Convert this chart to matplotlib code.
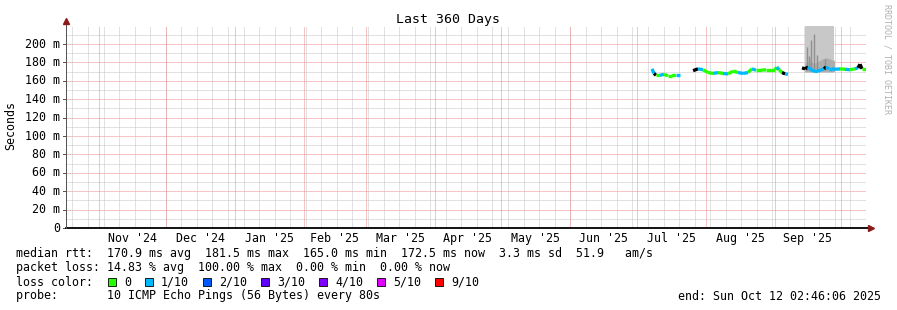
"""
Smokeping style RTT chart (last 360 days) redrawn with matplotlib.
"""

from datetime import datetime, timedelta

import matplotlib.pyplot as plt
from matplotlib.patches import Rectangle

# ---- data ----
# day offsets from the start of the 360 day window, median rtt in ms,
# loss level per sample (0 = no loss, 1 = 1/10, 2 = 2/10, -1 = drawn black)
seg1_days = [263.7, 264.6, 265.5, 267.3, 269.1, 270.9, 272.7, 274.5, 276.3]
seg1_rtt = [173, 168, 166, 166, 167, 165.5, 165.5, 166, 166]
seg1_loss = [1, -1, 0, 1, 0, 0, 0, 1, 0]

seg2_days = [282.2, 284.4, 286.7, 288.9, 291.2, 293.4, 295.7, 297.9, 300.2, 302.4,
             304.7, 306.9, 308.7, 310.5, 312.8, 315.0, 317.3, 319.0, 319.9, 320.9,
             322.2, 323.6, 324.9]
seg2_rtt = [171, 173, 172, 169, 168, 169, 168, 167.5, 170.5, 169,
            168, 169, 173, 171.5, 171.5, 172, 172, 172, 175, 172,
            169, 167.5, 167]
seg2_loss = [-1, 1, 0, 0, 1, 0, 1, 0, 0, 1,
             1, 0, 1, 0, 0, 0, 0, 0, 1, 0,
             -1, 1, 2]

seg3_days = [331.2, 332.6, 333.9, 335.3, 337.1, 338.4, 339.8, 341.1, 342.0, 343.4,
             344.7, 346.5, 348.3, 350.6, 352.8, 355.0, 356.4, 357.3, 358.2, 360.0]
seg3_rtt = [174, 173, 175, 172, 170, 170.5, 172, 173, 175, 173,
            173, 172.5, 173, 172.5, 172, 173, 174, 178, 173, 173]
seg3_loss = [-1, -1, 1, 1, 1, 1, 1, -1, 1, 1,
             1, 1, 0, 1, 0, 1, -1, -1, 0, 0]

# smoke (spread of the individual pings)
smoke_days = [332.4, 345.8]
smoke_low = [169, 169]
smoke_high = [300, 300]
mid_smoke_days = [332.6, 334.5, 336.5, 338.5, 340.5, 342.5, 344.5, 345.8]
mid_smoke_high = [180, 183, 179, 181, 184, 185, 183, 182]
spike_days = [333.45, 334.35, 335.25, 336.6, 338.0, 341.5]
spike_high = [197, 187, 204, 211, 188, 184]

loss_labels = ["0", "1/10", "2/10", "3/10", "4/10", "5/10", "9/10"]
loss_colors = ["#26ff00", "#00b8ff", "#0059ff", "#5e00ff", "#7e00ff", "#dd00ff", "#ff0000"]

y_ticks = [0, 20, 40, 60, 80, 100, 120, 140, 160, 180, 200]

stats_lines = [
    "median rtt:  170.9 ms avg  181.5 ms max  165.0 ms min  172.5 ms now  3.3 ms sd  51.9   am/s",
    "packet loss: 14.83 % avg  100.00 % max  0.00 % min  0.00 % now",
]
probe_text = "probe:       10 ICMP Echo Pings (56 Bytes) every 80s"
end_text = "end: Sun Oct 12 02:46:06 2025"

start = datetime(2024, 10, 17, 2, 46, 6)
n_days = 360

W, H = 897, 310
MONO = "DejaVu Sans Mono"
FS = 8.4


def day_of(dt):
    return (dt - start).total_seconds() / 86400.0


def px(x, y):
    # pixel position -> figure fraction
    return x / W, 1 - y / H


fig = plt.figure(figsize=(W / 100, H / 100), dpi=100, facecolor="white")
ax = fig.add_axes([66 / W, (H - 228) / H, 800 / W, 202 / H])
ax.set_xlim(0, n_days)
ax.set_ylim(0, 202 / 0.92)
for s in ax.spines.values():
    s.set_visible(False)
ax.set_xticks([])
ax.set_yticks([])

dot = (0, (1, 1))
lw1 = 0.72  # 1 px
minor_col = "#c4c4c4"
major_col = "#ee8a8a"

# horizontal grid
for v in range(10, 220, 10):
    col = major_col if v % 20 == 0 else minor_col
    ax.axhline(v, xmax=1.002, color=col, lw=lw1, ls=dot, zorder=1)

# vertical grid: weeks (Sundays) and months
d = start.replace(hour=0, minute=0, second=0)
while d.weekday() != 6:
    d += timedelta(days=1)
while day_of(d) < n_days:
    ax.axvline(day_of(d), color=minor_col, lw=lw1, ls=dot, zorder=1)
    d += timedelta(days=7)

month_starts = []
y, m = 2024, 11
while True:
    dt = datetime(y, m, 1)
    if day_of(dt) > n_days:
        break
    month_starts.append(dt)
    m += 1
    if m > 12:
        y, m = y + 1, 1
for dt in month_starts:
    ax.axvline(day_of(dt), color=major_col, lw=lw1, ls=dot, zorder=1)

# month labels in the middle of each full month
for a, b in zip(month_starts[:-1], month_starts[1:]):
    mid = (day_of(a) + day_of(b)) / 2
    ax.text(mid, -4.5, a.strftime("%b '%y"), ha="center", va="top",
            fontsize=FS, family=MONO, clip_on=False)

# y labels
for v in y_ticks:
    lab = "0" if v == 0 else f"{v} m"
    ax.text(-6 * 360 / 800, v, lab, ha="right", va="center",
            fontsize=FS, family=MONO, clip_on=False)
    ax.plot([-3 * 360 / 800, 0], [v, v], color="#555555", lw=lw1, clip_on=False)

# smoke
ax.fill_between(smoke_days, smoke_low, smoke_high, color="#c8c8c8", lw=0, zorder=2)
ax.fill_between(mid_smoke_days, [170] * len(mid_smoke_days), mid_smoke_high,
                color="#adadad", lw=0, zorder=2)
ax.vlines(spike_days, 172, spike_high, color="#8f8f8f", lw=1.0, zorder=2)

# median line colored by loss
for days, rtt, loss in [(seg1_days, seg1_rtt, seg1_loss),
                        (seg2_days, seg2_rtt, seg2_loss),
                        (seg3_days, seg3_rtt, seg3_loss)]:
    for i in range(len(days) - 1):
        c = "black" if loss[i] < 0 else loss_colors[loss[i]]
        ax.plot(days[i:i + 2], rtt[i:i + 2], color=c, lw=2.4,
                solid_capstyle="butt", zorder=3)

# axes with arrows
ax.plot([0, 1.005], [0, 0], transform=ax.transAxes, color="black", lw=1.3,
        clip_on=False, zorder=4)
ax.plot([0, 0], [0, 1.02], transform=ax.transAxes, color="#555555", lw=lw1,
        clip_on=False, zorder=4)
ax.plot([1.006], [0], transform=ax.transAxes, marker=">", color="#8b1a1a",
        ms=4, clip_on=False, zorder=5)
ax.plot([0], [1.025], transform=ax.transAxes, marker="^", color="#8b1a1a",
        ms=4, clip_on=False, zorder=5)

# titles
fig.text(*px(448, 19), "Last 360 Days", ha="center", va="center",
         fontsize=9.5, family=MONO)
fig.text(*px(11, 126), "Seconds", ha="center", va="center", rotation=90,
         fontsize=FS, family=MONO)
fig.text(*px(887, 59), "RRDTOOL / TOBI OETIKER", ha="center", va="center",
         rotation=270, fontsize=6, family=MONO, color="#b0b0b0")

# legend block
for i, line in enumerate(stats_lines):
    fig.text(*px(16, 254 + 14 * i), line, ha="left", va="center",
             fontsize=FS, family=MONO)
fig.text(*px(16, 282), "loss color:", ha="left", va="center",
         fontsize=FS, family=MONO)
bx = 108
for lab, col in zip(loss_labels, loss_colors):
    x0, y0 = px(bx, 286)
    fig.add_artist(Rectangle((x0, y0), 8 / W, 8 / H, transform=fig.transFigure,
                             facecolor=col, edgecolor="black", lw=0.6))
    fig.text(*px(bx + 16, 282), lab, ha="left", va="center",
             fontsize=FS, family=MONO)
    bx = bx + 16 + len(lab) * 7 + 14
fig.text(*px(16, 296), probe_text, ha="left", va="center",
         fontsize=FS, family=MONO)
fig.text(*px(881, 296), end_text, ha="right", va="center",
         fontsize=FS, family=MONO)

fig.savefig("out.png", dpi=100, facecolor="white")
